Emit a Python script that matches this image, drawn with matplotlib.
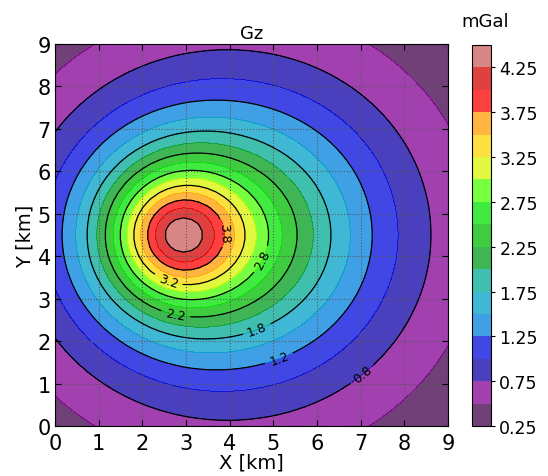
import numpy as np
import matplotlib
matplotlib.use("Agg")
import matplotlib.pyplot as plt

# two buried point masses (amplitude in mGal*km^2, position and depth in km)
src_amp = [13.3, 28.2]
src_x = [2.78, 4.69]
src_y = [4.50, 4.50]
src_depth = [2.05, 4.09]

levels = np.arange(0.25, 4.51, 0.25)
cbar_ticks = levels[::2]
label_spots = [(6.97, 1.30), (5.12, 1.63), (4.60, 2.35), (2.75, 2.55),
               (2.60, 3.45), (4.78, 3.90), (3.83, 4.55)]


def gz(x, y):
    g = np.zeros_like(x)
    for a, xs, ys, z in zip(src_amp, src_x, src_y, src_depth):
        g += a * z / ((x - xs) ** 2 + (y - ys) ** 2 + z ** 2) ** 1.5
    return g


xg = np.linspace(0, 9, 50)
X, Y = np.meshgrid(xg, xg)
G = gz(X, Y)

fig = plt.figure(figsize=(5.48, 4.77), dpi=100)
ax = fig.add_axes([55 / 548, 1 - 427 / 477, 393 / 548, 382 / 477])
cax = fig.add_axes([472 / 548, 1 - 427 / 477, 19 / 548, 381 / 477])

cf = ax.contourf(X, Y, G, levels=levels, cmap='nipy_spectral', alpha=0.75)
cs = ax.contour(X, Y, G, levels=levels[2::2], colors='k', linewidths=0.9)
ax.clabel(cs, fmt='%.1f', fontsize=9, manual=label_spots)

ax.set_xlim(0, 9)
ax.set_ylim(0, 9)
ax.set_xticks(range(10))
ax.set_yticks(range(10))
ax.grid(True, linestyle=':', color='0.35', linewidth=0.8)
ax.tick_params(direction='in', top=True, right=True, labelsize=15, length=4)
ax.tick_params(axis='x', pad=5)
ax.tick_params(axis='y', pad=3)
ax.set_xlabel('X [km]', fontsize=14, labelpad=0)
ax.set_ylabel('Y [km]', fontsize=14, labelpad=2)
ax.set_title('Gz', fontsize=13, pad=4)

cb = fig.colorbar(cf, cax=cax, ticks=cbar_ticks, format='%.2f')
cb.ax.tick_params(labelsize=12.5, length=3, pad=3)
fig.text(485 / 548, 1 - 27 / 477, 'mGal', fontsize=13, ha='center', va='baseline')

fig.savefig("out.png", dpi=100)
